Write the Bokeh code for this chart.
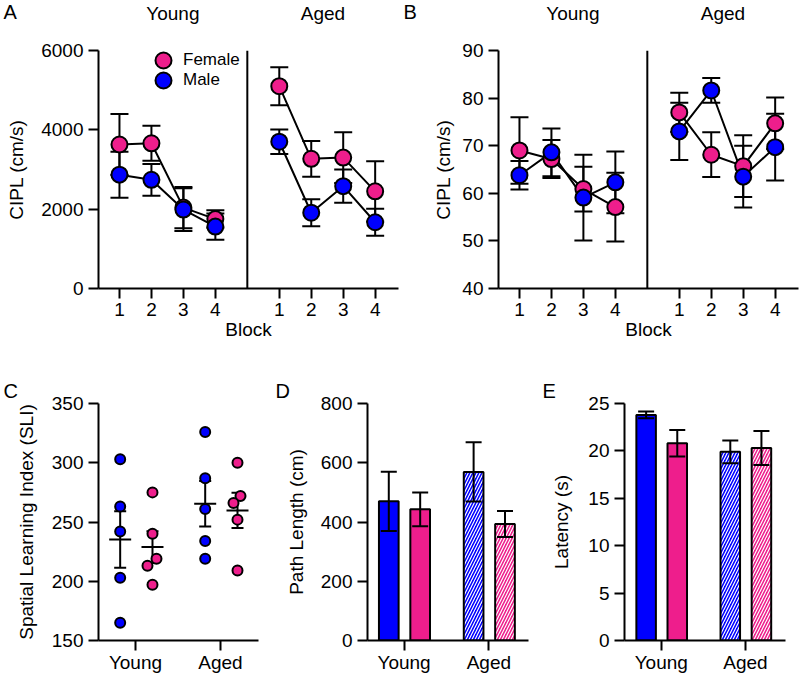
from bokeh.plotting import figure
from bokeh.layouts import column, row
from bokeh.models import (ColumnDataSource, Whisker, TeeHead, Span, Label, Legend,
                          LegendItem, FixedTicker, Range1d)
from bokeh.core.properties import value
from bokeh.embed import file_html
from bokeh.resources import INLINE

FONT = "Liberation Sans"
PINK = "#EE1E8C"
BLUE = "#0000FF"

# ---------------- data ----------------
blocks = [1, 2, 3, 4]
block_labels = ["1", "2", "3", "4"]
age_groups = ["Young", "Aged"]
panel_letters = ["A", "B", "C", "D", "E"]

# Panel A: CIPL (cm/s), mean and SEM per block
A_young_female = [3630, 3660, 2040, 1750]
A_young_female_sem = [770, 440, 520, 220]
A_young_male = [2870, 2740, 1990, 1560]
A_young_male_sem = [580, 400, 540, 330]
A_aged_female = [5100, 3270, 3300, 2450]
A_aged_female_sem = [480, 450, 640, 760]
A_aged_male = [3700, 1910, 2580, 1670]
A_aged_male_sem = [310, 340, 420, 340]

# Panel B: CIPL (cm/s)
B_young_female = [69.0, 67.2, 60.9, 57.1]
B_young_female_sem = [7.0, 4.0, 4.7, 7.2]
B_young_male = [63.8, 68.6, 59.1, 62.3]
B_young_male_sem = [3.0, 5.0, 9.0, 6.5]
B_aged_female = [77.0, 68.1, 65.7, 74.7]
B_aged_female_sem = [4.1, 4.7, 6.5, 5.4]
B_aged_male = [73.0, 81.6, 63.5, 69.7]
B_aged_male_sem = [6.0, 2.6, 6.5, 7.0]

# Panel C: Spatial Learning Index, individual animals
C_young_male = [303, 263, 242, 203, 165]
C_young_female = [275, 240, 219, 213, 197]
C_aged_male = [326, 287, 261, 234, 219]
C_aged_female = [300, 272, 266, 252, 209]

# Panel D: Path length (cm) [Young, Aged]
D_male = [470, 569]
D_male_sem = [100, 100]
D_female = [443, 393]
D_female_sem = [57, 44]

# Panel E: Latency (s) [Young, Aged]
E_male = [23.8, 19.9]
E_male_sem = [0.35, 1.2]
E_female = [20.8, 20.3]
E_female_sem = [1.4, 1.8]

# ---------------- layout constants ----------------
AGED_SHIFT = 5          # aged blocks drawn 5 units right of young blocks
DIVIDER = 5
BLOCK_XR = (0.344, 9.73)
MALE_OFF = -0.18
FEMALE_OFF = 0.19
TOP_W, TOP_FRAME_L, TOP_FRAME_R = 400, 98, 2
STRIP_H = 26
# small horizontal jitter of scatter points (pixels) in panel C
C_jit_young_female = [0, 0, 4, -5, 0]
C_jit_aged_female = [0, 3, -4, 0, 0]
C_jit_young_male = [0, 0, 0, 0, 0]
C_jit_aged_male = [0, 0, 0, 0, 0]


def style(p, xlabel, ylabel, tick_out=10, x_std=5, y_lab_std=12, x_lab_std=0):
    for ax in (p.xaxis[0], p.yaxis[0]):
        ax.axis_line_width = 2
        ax.axis_line_color = "black"
        ax.major_tick_line_width = 2
        ax.major_tick_line_color = "black"
        ax.major_tick_out = 10
        ax.major_tick_in = 0
        ax.minor_tick_line_color = None
        ax.major_label_text_font = FONT
        ax.major_label_text_font_size = "19px"
        ax.major_label_text_color = "black"
        ax.axis_label_text_font = FONT
        ax.axis_label_text_font_size = "19px"
        ax.axis_label_text_font_style = "normal"
        ax.axis_label_text_color = "black"
    p.xaxis[0].major_tick_out = tick_out
    p.xaxis[0].major_label_standoff = x_std
    p.xaxis[0].axis_label = xlabel
    p.xaxis[0].axis_label_standoff = x_lab_std
    p.yaxis[0].axis_label = ylabel
    p.yaxis[0].axis_label_standoff = y_lab_std
    p.xgrid.visible = False
    p.ygrid.visible = False
    p.outline_line_color = None
    p.background_fill_color = None
    p.border_fill_color = None


def make_fig(w, h, left, right, top, bottom, xr, yr):
    return figure(width=w, height=h, x_range=Range1d(*xr), y_range=Range1d(*yr),
                  output_backend="svg", toolbar_location=None,
                  min_border_left=left, min_border_right=right,
                  min_border_top=top, min_border_bottom=bottom)


def canvas_label(p, txt, x, y, side, size="20px"):
    p.add_layout(Label(x=x, y=y, x_units="canvas", y_units="canvas", text=txt,
                       text_font=FONT, text_font_size=size, text_align="left",
                       text_baseline="middle", text_color="black"), side)


def whisker(p, xs, means, sems, size, level):
    src = ColumnDataSource(dict(x=xs, lower=[m - s for m, s in zip(means, sems)],
                                upper=[m + s for m, s in zip(means, sems)]))
    w = Whisker(source=src, base="x", lower="lower", upper="upper",
                line_width=2, line_color="black", level=level,
                upper_head=TeeHead(size=size, line_width=2, line_color="black"),
                lower_head=TeeHead(size=size, line_width=2, line_color="black"))
    p.add_layout(w)


def legend_entry(p, label, renderer, vy):
    p.add_layout(Legend(items=[LegendItem(label=label, renderers=[renderer])],
                        location=(45, vy), glyph_width=40, glyph_height=40,
                        label_standoff=-2, padding=0, margin=0, border_line_color=None,
                        background_fill_alpha=0, label_text_font=FONT,
                        label_text_font_size="17px", label_text_color="black"))


def block_panel(ylabel, yr, yticks, yf, yfs, ym, yms, af, afs, am, ams, with_legend, ystd):
    p = make_fig(TOP_W, 352 - STRIP_H, TOP_FRAME_L, TOP_FRAME_R, 50 - STRIP_H, 64, BLOCK_XR, yr)
    style(p, "Block", ylabel, tick_out=10, x_std=4, y_lab_std=ystd, x_lab_std=0)
    young_x = blocks
    aged_x = [b + AGED_SHIFT for b in blocks]
    ticks = young_x + aged_x
    p.xaxis[0].ticker = FixedTicker(ticks=ticks)
    p.xaxis[0].major_label_overrides = {t: l for t, l in zip(ticks, block_labels + block_labels)}
    p.yaxis[0].ticker = FixedTicker(ticks=yticks)
    p.add_layout(Span(location=DIVIDER, dimension="height", line_color="black", line_width=2))
    for xs, means, sems in ((young_x, yf, yfs), (young_x, ym, yms), (aged_x, af, afs), (aged_x, am, ams)):
        whisker(p, xs, means, sems, 18, "underlay")
    for xs, means in ((young_x, yf), (young_x, ym), (aged_x, af), (aged_x, am)):
        p.line(xs, means, line_color="black", line_width=2)
    rf = p.scatter(young_x, yf, size=16, fill_color=PINK, line_color="black", line_width=2)
    p.scatter(aged_x, af, size=16, fill_color=PINK, line_color="black", line_width=2)
    rm = p.scatter(young_x, ym, size=16, fill_color=BLUE, line_color="black", line_width=2)
    p.scatter(aged_x, am, size=16, fill_color=BLUE, line_color="black", line_width=2)
    if with_legend:
        legend_entry(p, "Female", rf, 208)
        legend_entry(p, "Male", rm, 188)
    return p


pA = block_panel("CIPL (cm/s)", (0, 6000), [0, 2000, 4000, 6000],
                 A_young_female, A_young_female_sem, A_young_male, A_young_male_sem,
                 A_aged_female, A_aged_female_sem, A_aged_male, A_aged_male_sem, True, 11)
pB = block_panel("CIPL (cm/s)", (40, 90), [40, 50, 60, 70, 80, 90],
                 B_young_female, B_young_female_sem, B_young_male, B_young_male_sem,
                 B_aged_female, B_aged_female_sem, B_aged_male, B_aged_male_sem, False, 5)

# ---------------- header strip (panel letters A/B and group titles) ----------------
frame_w = TOP_W - TOP_FRAME_L - TOP_FRAME_R


def block_to_px(x, panel_index):
    return panel_index * TOP_W + TOP_FRAME_L + (x - BLOCK_XR[0]) / (BLOCK_XR[1] - BLOCK_XR[0]) * frame_w


strip = figure(width=800, height=STRIP_H, x_range=Range1d(0, 800), y_range=Range1d(STRIP_H, 0),
               output_backend="svg", toolbar_location=None, min_border=0,
               x_axis_type=None, y_axis_type=None)
strip.outline_line_color = None
strip.background_fill_color = None
strip.border_fill_color = None
title_x, title_txt = [], []
for pi in range(2):
    title_x += [block_to_px((BLOCK_XR[0] + DIVIDER) / 2, pi), block_to_px((DIVIDER + BLOCK_XR[1]) / 2, pi)]
    title_txt += age_groups
strip.text(x=title_x, y=[13] * len(title_x), text=title_txt, text_font=value(FONT),
           text_font_size="19px", text_align="center", text_baseline="middle", text_color="black")
strip.text(x=[3, TOP_W + 3], y=[11.5, 11.5], text=panel_letters[:2], text_font=value(FONT),
           text_font_size="20px", text_align="left", text_baseline="middle", text_color="black")

group_x = [1, 2]
group_overrides = {1: age_groups[0], 2: age_groups[1]}
BOT_H = 323

# ---------------- Panel C ----------------
xrC = (0.565, 2.447)
pC = make_fig(265, BOT_H, 98, 7, 51, 32, xrC, (150, 350))
style(pC, "", "Spatial Learning Index (SLI)", tick_out=10, x_std=1, y_lab_std=12)
pC.xaxis[0].axis_label = None
pC.xaxis[0].ticker = FixedTicker(ticks=group_x)
pC.xaxis[0].major_label_overrides = group_overrides
pC.yaxis[0].ticker = FixedTicker(ticks=[150, 200, 250, 300, 350])
px_per_unit_C = (265 - 98 - 7) / (xrC[1] - xrC[0])
for gi, vals, jit, off, col in ((0, C_young_male, C_jit_young_male, MALE_OFF, BLUE),
                                (0, C_young_female, C_jit_young_female, FEMALE_OFF + 0.01, PINK),
                                (1, C_aged_male, C_jit_aged_male, MALE_OFF, BLUE),
                                (1, C_aged_female, C_jit_aged_female, FEMALE_OFF + 0.01, PINK)):
    cx = group_x[gi] + off
    n = len(vals)
    mean = sum(vals) / n
    sd = (sum((v - mean) ** 2 for v in vals) / (n - 1)) ** 0.5
    sem = sd / n ** 0.5
    whisker(pC, [cx], [mean], [sem], 12, "underlay")
    pC.scatter([cx + j / px_per_unit_C for j in jit], vals, size=10, fill_color=col,
               line_color="black", line_width=2)
    pC.scatter([cx], [mean], marker="dash", size=22, line_color="black", line_width=2)
canvas_label(pC, panel_letters[2], 3, 38, "above")


# ---------------- Panels D, E ----------------
def bar_panel(w, left, right, xr, yr, yticks, ylabel, male, male_sem, female, female_sem, lab, lx, ystd):
    p = make_fig(w, BOT_H, left, right, 51, 32, xr, yr)
    style(p, "", ylabel, tick_out=10, x_std=1, y_lab_std=ystd)
    p.xaxis[0].axis_label = None
    p.xaxis[0].ticker = FixedTicker(ticks=group_x)
    p.xaxis[0].major_label_overrides = group_overrides
    p.yaxis[0].ticker = FixedTicker(ticks=yticks)
    bw = 0.232
    hatch = dict(hatch_pattern="/", hatch_color="white", hatch_scale=6, hatch_weight=1.2)
    # Young: solid bars
    p.vbar(x=[group_x[0] + MALE_OFF], top=[male[0]], bottom=0, width=bw, fill_color=BLUE,
           line_color="black", line_width=2)
    p.vbar(x=[group_x[0] + FEMALE_OFF], top=[female[0]], bottom=0, width=bw, fill_color=PINK,
           line_color="black", line_width=2)
    # Aged: hatched bars
    p.vbar(x=[group_x[1] + MALE_OFF], top=[male[1]], bottom=0, width=bw, fill_color=BLUE,
           line_color="black", line_width=2, **hatch)
    p.vbar(x=[group_x[1] + FEMALE_OFF], top=[female[1]], bottom=0, width=bw, fill_color=PINK,
           line_color="black", line_width=2, **hatch)
    whisker(p, [g + MALE_OFF for g in group_x], male, male_sem, 16, "overlay")
    whisker(p, [g + FEMALE_OFF for g in group_x], female, female_sem, 16, "overlay")
    canvas_label(p, lab, lx, 38, "above")
    return p


pD = bar_panel(267, 102, 4, (0.569, 2.467), (0, 800), [0, 200, 400, 600, 800], "Path Length (cm)",
               D_male, D_male_sem, D_female, D_female_sem, panel_letters[3], 10, 11)
pE = bar_panel(268, 92, 15, (0.563, 2.476), (0, 25), [0, 5, 10, 15, 20, 25], "Latency (s)",
               E_male, E_male_sem, E_female, E_female_sem, panel_letters[4], 10, 13)

layout = column(strip, row(pA, pB), row(pC, pD, pE))
open("out.html", "w").write(file_html(layout, INLINE))
